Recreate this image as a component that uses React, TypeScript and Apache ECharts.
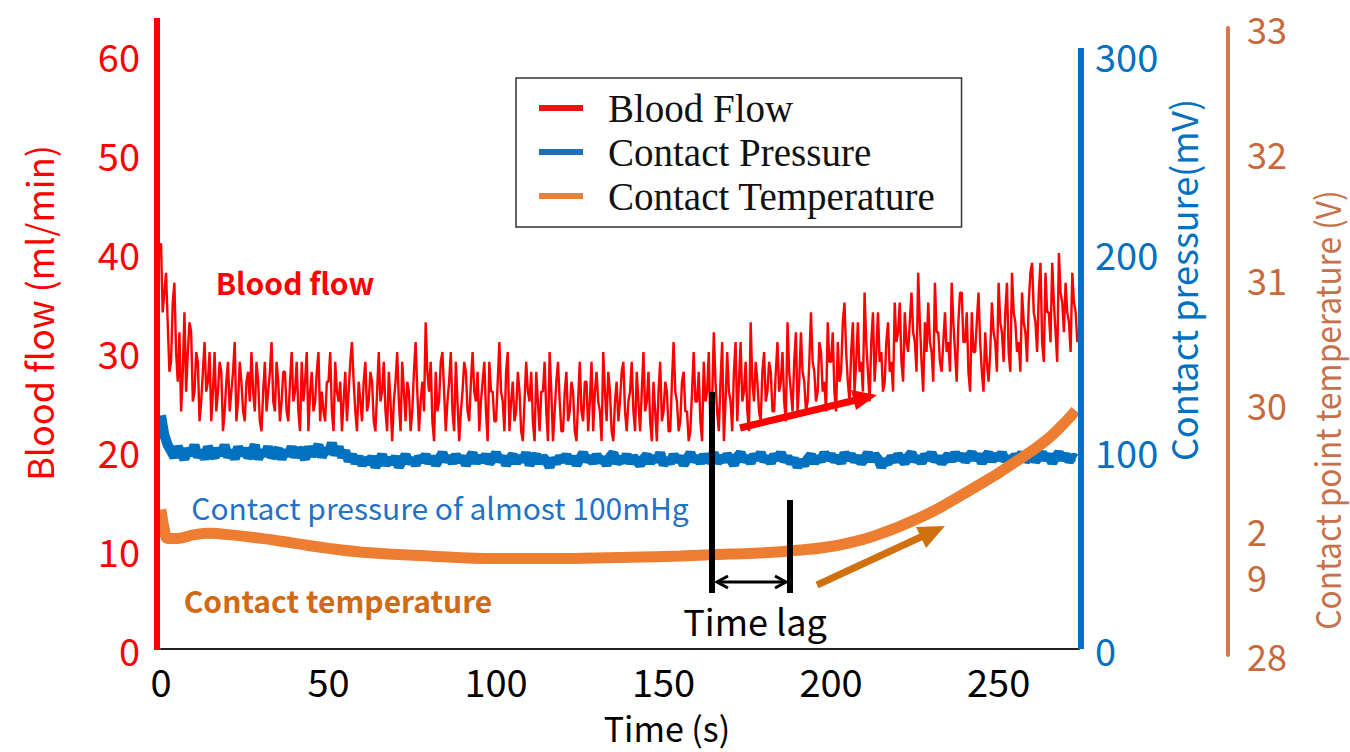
import React, { useEffect, useRef } from "react";
import * as echarts from "echarts";

const FONT = '"Noto Sans CJK JP", "Noto Sans", sans-serif';
const SERIF = '"Liberation Serif", "Times New Roman", serif';

// Blood flow (ml/min), one reading every 0.5 s from t = 0 s
const flowStep = 0.5;
const bloodFlow = [
  41, 34, 36, 38, 33, 28, 29, 35, 37, 30, 27, 32, 24, 28, 34, 26, 30, 33, 32, 25, 26, 30, 29, 23, 25, 28, 31, 26, 27, 30, 23, 26, 30, 24, 26, 29, 28, 22, 24, 27,
  29, 24, 26, 28, 31, 23, 25, 29, 27, 24, 23, 27, 28, 25, 30, 26, 24, 29, 27, 23, 22, 26, 29, 24, 26, 28, 31, 25, 24, 29, 27, 23, 25, 28, 28, 24, 23, 27, 30, 25,
  26, 29, 24, 22, 29, 25, 27, 30, 22, 26, 28, 24, 25, 28, 30, 23, 26, 24, 23, 27, 27, 30, 24, 22, 29, 26, 25, 27, 22, 25, 28, 23, 26, 29, 31, 27, 24, 22, 27, 25,
  23, 27, 29, 24, 25, 28, 27, 23, 22, 26, 30, 25, 26, 29, 24, 22, 28, 25, 21, 25, 27, 30, 25, 22, 29, 26, 23, 27, 26, 22, 24, 28, 31, 26, 22, 25, 27, 24, 33, 28,
  26, 29, 23, 21, 28, 24, 25, 29, 30, 26, 22, 25, 27, 30, 24, 22, 29, 25, 21, 24, 26, 29, 28, 24, 23, 27, 30, 26, 25, 28, 22, 25, 27, 29, 24, 21, 29, 26, 26, 23,
  23, 27, 31, 26, 25, 22, 28, 30, 22, 25, 27, 23, 24, 28, 26, 22, 21, 25, 29, 26, 25, 28, 23, 21, 28, 25, 22, 26, 26, 29, 24, 21, 30, 26, 21, 24, 27, 29, 25, 22,
  22, 26, 28, 23, 24, 27, 26, 22, 21, 25, 29, 24, 23, 27, 27, 22, 25, 29, 22, 26, 28, 25, 24, 21, 30, 26, 23, 28, 26, 22, 21, 25, 27, 23, 25, 28, 29, 24, 22, 25,
  26, 29, 24, 22, 28, 25, 22, 26, 30, 24, 25, 28, 23, 21, 27, 24, 21, 26, 29, 23, 24, 27, 26, 22, 22, 27, 31, 26, 25, 22, 23, 27, 28, 24, 24, 21, 22, 26, 30, 25,
  25, 28, 23, 21, 29, 25, 26, 30, 22, 25, 32, 27, 24, 22, 27, 31, 21, 25, 30, 26, 25, 22, 28, 31, 23, 27, 31, 25, 26, 29, 24, 22, 33, 27, 25, 29, 27, 24, 23, 28,
  30, 25, 26, 29, 28, 24, 24, 28, 31, 26, 27, 30, 25, 23, 33, 28, 26, 24, 29, 32, 24, 27, 32, 28, 27, 24, 25, 29, 34, 29, 28, 25, 26, 31, 30, 26, 27, 24, 33, 29,
  29, 32, 26, 24, 31, 27, 28, 33, 35, 30, 27, 25, 30, 33, 26, 29, 33, 28, 29, 26, 36, 31, 28, 25, 31, 34, 27, 30, 34, 29, 30, 26, 27, 31, 33, 28, 29, 26, 35, 31,
  32, 35, 29, 27, 34, 31, 30, 33, 36, 32, 31, 28, 38, 33, 29, 26, 33, 30, 35, 31, 30, 27, 37, 32, 32, 29, 28, 31, 34, 30, 31, 28, 37, 33, 30, 27, 33, 36, 36, 31,
  31, 34, 28, 26, 34, 30, 30, 33, 36, 31, 28, 26, 32, 29, 27, 30, 35, 32, 31, 28, 37, 33, 32, 29, 34, 37, 30, 28, 38, 34, 33, 30, 31, 28, 36, 33, 32, 29, 35, 38,
  39, 34, 33, 30, 36, 39, 31, 29, 38, 34, 34, 31, 39, 35, 32, 29, 40, 36, 35, 32, 37, 34, 33, 30, 38, 35, 34, 31,
];

// Contact pressure (mV), one reading per second from t = 0 s
const pressureStep = 1;
const contactPressure = [
  118, 108, 103, 100, 97, 102, 99, 96, 101, 98, 103, 97, 100, 96, 102, 99, 97, 101, 98, 103,
  97, 100, 96, 102, 98, 101, 97, 99, 103, 96, 100, 98, 102, 97, 99, 101, 96, 100, 98, 102,
  97, 101, 99, 96, 102, 98, 100, 103, 97, 101, 99, 104, 98, 102, 97, 100, 95, 98, 94, 97,
  93, 96, 94, 97, 92, 95, 98, 93, 96, 94, 97, 92, 95, 98, 94, 96, 93, 97, 95, 98,
  94, 97, 93, 96, 99, 95, 97, 94, 98, 95, 97, 93, 96, 99, 94, 97, 95, 98, 94, 96,
  99, 95, 97, 93, 96, 98, 94, 97, 95, 99, 93, 96, 98, 94, 97, 95, 92, 96, 94, 97,
  95, 98, 94, 97, 93, 96, 99, 95, 97, 94, 98, 95, 96, 93, 97, 99, 94, 96, 95, 98,
  94, 97, 95, 93, 96, 98, 94, 97, 95, 99, 93, 96, 94, 98, 95, 97, 93, 96, 99, 95,
  97, 94, 98, 95, 96, 99, 94, 97, 95, 98, 96, 93, 97, 99, 95, 97, 94, 98, 96, 99,
  95, 97, 94, 98, 96, 99, 95, 97, 94, 96, 92, 95, 93, 96, 98, 94, 97, 95, 99, 96,
  98, 95, 97, 94, 99, 96, 98, 95, 97, 94, 96, 99, 95, 98, 96, 92, 95, 94, 97, 95,
  98, 96, 94, 97, 99, 95, 97, 94, 98, 96, 99, 95, 97, 94, 96, 98, 95, 99, 96, 98,
  95, 97, 99, 96, 98, 94, 97, 99, 95, 98, 96, 99, 95, 97, 94, 98, 96, 99, 95, 97,
  98, 95, 97, 99, 96, 98, 94, 97, 99, 96, 98, 95, 97, 96,
];

// Contact point temperature, sampled at these times (s)
const tempTimes = [
  0, 1, 2, 5, 10, 15, 20, 30, 40, 50, 60, 80, 100, 120, 140, 155, 170, 180, 190, 200,
  210, 215, 220, 230, 238, 245, 250, 255, 259, 265, 270, 273,
];
const contactTemperature = [
  29.16, 29.0, 28.93, 28.93, 28.96, 28.97, 28.96, 28.93, 28.89, 28.85, 28.82, 28.79,
  28.77, 28.77, 28.78, 28.79, 28.805, 28.815, 28.835, 28.865, 28.925, 28.97, 29.02, 29.14,
  29.26, 29.37, 29.45, 29.54, 29.61, 29.73, 29.86, 29.95,
];

const timeTicks = { min: 0, max: 274, interval: 50 };
const flowTicks = { min: 0, max: 60, interval: 10 };
const pressureTicks = { min: 0, max: 300, interval: 100 };
const tempTicks = { min: 28, max: 33, interval: 1 };

export default function App() {
  const ref = useRef<HTMLDivElement>(null);

  useEffect(() => {
    if (!ref.current) return;
    const chart = echarts.init(ref.current, null, { renderer: "svg" });

    const flowData = bloodFlow.map((v, i) => [i * flowStep, v]);
    const pressureData = contactPressure.map((v, i) => [i * pressureStep, v]);
    const tempData = tempTimes.map((t, i) => [t, contactTemperature[i]]);

    const txt = (
      text: string,
      x: number,
      y: number,
      fill: string,
      font: string,
      extra: any = {}
    ) => ({
      type: "text",
      x,
      y,
      z: 20,
      ...extra,
      style: {
        text,
        fill,
        font,
        align: "center",
        textAlign: "center",
        verticalAlign: "middle",
        textVerticalAlign: "middle",
      },
    });

    const option: any = {
      animation: false,
      backgroundColor: "#ffffff",
      grid: [
        { left: 161, right: 271, top: 55, bottom: 103 },
        { left: 161, right: 271, top: 28, bottom: 97 },
      ],
      xAxis: [
        {
          type: "value",
          gridIndex: 0,
          ...timeTicks,
          axisLine: { show: true, lineStyle: { color: "#222", width: 2 } },
          axisTick: { show: false },
          splitLine: { show: false },
          axisLabel: {
            color: "#000",
            fontSize: 38,
            fontFamily: FONT,
            margin: 12,
            showMaxLabel: false,
          },
        },
        { type: "value", gridIndex: 1, ...timeTicks, show: false },
      ],
      yAxis: [
        {
          type: "value",
          gridIndex: 0,
          position: "left",
          ...flowTicks,
          axisLine: { show: false },
          axisTick: { show: false },
          splitLine: { show: false },
          axisLabel: { color: "#ff0000", fontSize: 38, fontFamily: FONT, margin: 21 },
        },
        {
          type: "value",
          gridIndex: 0,
          position: "right",
          ...pressureTicks,
          axisLine: { show: false },
          axisTick: { show: false },
          splitLine: { show: false },
          axisLabel: { color: "#0070c0", fontSize: 38, fontFamily: FONT, margin: 16 },
        },
        {
          type: "value",
          gridIndex: 1,
          position: "right",
          offset: 149,
          ...tempTicks,
          axisLine: { show: true, onZero: false, lineStyle: { color: "#d0784f", width: 4 } },
          axisTick: { show: false },
          splitLine: { show: false },
          axisLabel: {
            color: "#c8693c",
            fontSize: 36,
            fontFamily: FONT,
            margin: 19,
            lineHeight: 46,
            formatter: (v: number) => (v === 29 ? "\u00a0\n2\n9" : String(v)),
          },
        },
      ],
      legend: {
        orient: "vertical",
        left: 516,
        top: 78,
        padding: [10, 26, 11, 23],
        itemGap: 4,
        itemWidth: 44,
        itemHeight: 6,
        icon: "rect",
        borderColor: "#333",
        borderWidth: 1.5,
        backgroundColor: "#fff",
        selectedMode: false,
        textStyle: {
          fontFamily: SERIF,
          fontSize: 39,
          color: "#111",
          lineHeight: 40,
          padding: [0, 0, 0, 20],
        },
        data: ["Blood Flow", "Contact Pressure", "Contact Temperature"],
      },
      series: [
        {
          name: "Blood Flow",
          type: "line",
          xAxisIndex: 0,
          yAxisIndex: 0,
          data: flowData,
          symbol: "none",
          color: "#ee1111",
          itemStyle: { color: "#ee1111" },
          lineStyle: { color: "#ff0000", width: 2.4 },
          z: 3,
        },
        {
          name: "Contact Pressure",
          type: "line",
          xAxisIndex: 0,
          yAxisIndex: 1,
          data: pressureData,
          symbol: "none",
          color: "#1f6fb8",
          itemStyle: { color: "#1f6fb8" },
          lineStyle: { color: "#0070c0", width: 10 },
          z: 2,
        },
        {
          name: "Contact Temperature",
          type: "line",
          xAxisIndex: 1,
          yAxisIndex: 2,
          data: tempData,
          symbol: "none",
          smooth: 0.4,
          color: "#ed7d31",
          itemStyle: { color: "#e8803c" },
          lineStyle: { color: "#ed7d31", width: 11 },
          z: 4,
        },
      ],
      graphic: [
        { type: "rect", z: 10, shape: { x: 154, y: 18, width: 6, height: 632 }, style: { fill: "#ff0000" } },
        { type: "rect", z: 10, shape: { x: 1078, y: 48, width: 6, height: 601 }, style: { fill: "#0070c0" } },
        txt("Blood flow (ml/min)", 38, 313, "#ff0000", `36px ${FONT}`, { rotation: Math.PI / 2 }),
        txt("Contact pressure(mV)", 1182, 280, "#0070c0", `36px ${FONT}`, { rotation: Math.PI / 2 }),
        txt("Contact point temperature (V)", 1326, 410, "#c8704a", `34px ${FONT}`, {
          rotation: Math.PI / 2,
          scaleX: 0.93,
        }),
        txt("Time (s)", 667, 727, "#000", `34px ${FONT}`),
        txt("Blood flow", 295, 282, "#ff0000", `bold 30px ${FONT}`),
        txt("Contact pressure of almost 100mHg", 440, 507, "#1f72c4", `30px ${FONT}`),
        txt("Contact temperature", 338, 600, "#d06a14", `bold 30px ${FONT}`),
        txt("Time lag", 755, 620, "#000", `36px ${FONT}`),
        // time lag markers
        { type: "line", z: 15, shape: { x1: 712, y1: 392, x2: 712, y2: 593 }, style: { stroke: "#000", lineWidth: 6 } },
        { type: "line", z: 15, shape: { x1: 790, y1: 500, x2: 790, y2: 593 }, style: { stroke: "#000", lineWidth: 6 } },
        { type: "line", z: 15, shape: { x1: 717, y1: 582, x2: 786, y2: 582 }, style: { stroke: "#000", lineWidth: 3 } },
        { type: "polyline", z: 15, shape: { points: [[728, 576], [717, 582], [728, 588]] }, style: { stroke: "#000", lineWidth: 3, fill: "none" } },
        { type: "polyline", z: 15, shape: { points: [[775, 576], [786, 582], [775, 588]] }, style: { stroke: "#000", lineWidth: 3, fill: "none" } },
        // red arrow
        { type: "line", z: 15, shape: { x1: 740, y1: 428, x2: 856, y2: 400 }, style: { stroke: "#ff0000", lineWidth: 7 } },
        { type: "polygon", z: 15, shape: { points: [[877, 395], [856, 410], [851, 390]] }, style: { fill: "#ff0000" } },
        // orange arrow
        { type: "line", z: 15, shape: { x1: 817, y1: 585, x2: 923, y2: 536 }, style: { stroke: "#d0700e", lineWidth: 7 } },
        { type: "polygon", z: 15, shape: { points: [[945, 526], [926, 548], [916, 527]] }, style: { fill: "#d0700e" } },
      ],
    };

    chart.setOption(option);
    return () => chart.dispose();
  }, []);

  return (
    <div
      ref={ref}
      style={{ position: "fixed", left: 0, top: 0, width: 1350, height: 752, background: "#fff" }}
    />
  );
}
